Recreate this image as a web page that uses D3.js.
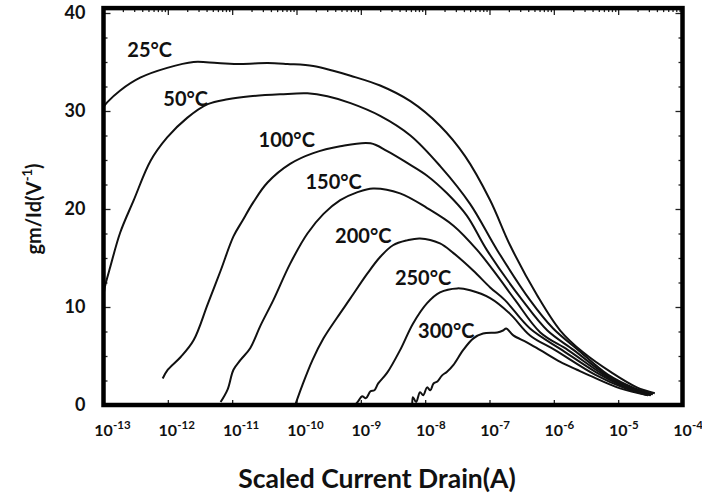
<!DOCTYPE html>
<html>
<head>
<meta charset="utf-8">
<script src="https://cdn.jsdelivr.net/npm/d3@7"></script>
<style>
  body { margin: 0; background: #fff; }
  svg { display: block; }
  text { font-family: Lato, "Open Sans", sans-serif; font-weight: 700; fill: #111; }
</style>
</head>
<body>
<svg id="chart" width="702" height="500"></svg>
<script>
// Each point: [log10 of scaled drain current (A), gm/Id (1/V)]
const t25 = [[-13,30.4],[-12.94,30.9],[-12.74,32.1],[-12.43,33.4],[-12.01,34.4],[-11.6,35.0],[-11.23,34.9],[-10.87,34.8],[-10.45,34.9],[-10.14,34.8],[-9.74,34.6],[-9.43,34.1],[-9.16,33.6],[-8.7,32.6],[-8.23,31.0],[-7.77,28.5],[-7.38,25.4],[-6.99,20.9],[-6.68,16.3],[-6.26,11.2],[-5.9,7.6],[-5.55,5.4],[-5.1,3.3],[-4.71,1.8],[-4.43,1.2]];
const t50 = [[-13,11.0],[-12.98,12.0],[-12.89,14.2],[-12.74,17.6],[-12.53,20.9],[-12.27,24.9],[-12.01,27.3],[-11.7,29.3],[-11.38,30.7],[-11.07,31.2],[-10.72,31.5],[-10.25,31.7],[-9.83,31.8],[-9.52,31.5],[-9.16,30.8],[-8.7,29.5],[-8.23,27.5],[-7.77,24.4],[-7.3,20.5],[-6.88,15.8],[-6.37,10.7],[-6.01,7.8],[-5.62,5.6],[-5.16,3.1],[-4.74,1.7],[-4.46,1.1]];
const t100 = [[-12.08,2.7],[-12.0,3.6],[-11.8,4.9],[-11.6,6.6],[-11.38,10.3],[-11.18,13.7],[-10.98,17.2],[-10.84,18.8],[-10.67,20.7],[-10.45,22.7],[-10.1,24.6],[-9.74,25.7],[-9.32,26.4],[-8.85,26.7],[-8.59,25.9],[-8.28,24.7],[-7.97,23.4],[-7.66,21.6],[-7.35,19.3],[-7.04,15.8],[-6.49,10.7],[-6.1,7.6],[-5.69,5.6],[-5.19,3.1],[-4.78,1.7],[-4.47,1.1]];
const t150 = [[-11.18,0.3],[-11.07,1.6],[-10.98,3.6],[-10.87,4.6],[-10.72,5.8],[-10.56,8.1],[-10.36,10.7],[-10.1,14.4],[-9.83,17.5],[-9.58,19.5],[-9.32,20.9],[-9.06,21.7],[-8.81,22.1],[-8.39,21.6],[-7.97,20.1],[-7.56,18.3],[-7.19,15.8],[-6.88,13.2],[-6.6,10.7],[-6.21,7.4],[-5.78,5.6],[-5.23,3.1],[-4.82,1.7],[-4.49,1.0]];
const t200 = [[-10.02,0],[-9.91,2.0],[-9.75,4.6],[-9.58,6.8],[-9.37,8.9],[-9.16,10.9],[-8.9,13.4],[-8.7,15.1],[-8.5,16.3],[-8.28,16.8],[-8.08,17.0],[-7.77,16.5],[-7.56,15.5],[-7.25,13.7],[-6.99,12.0],[-6.76,10.7],[-6.37,7.8],[-5.87,5.6],[-5.28,3.1],[-4.85,1.7],[-4.5,1.0]];
const t250 = [[-9.09,0],[-9.04,0.4],[-8.98,0.9],[-8.92,0.7],[-8.85,1.4],[-8.79,1.5],[-8.73,2.2],[-8.59,3.3],[-8.39,5.6],[-8.19,8.3],[-7.97,10.4],[-7.77,11.5],[-7.5,11.9],[-7.3,11.7],[-6.99,10.9],[-6.68,9.3],[-6.37,7.1],[-5.98,5.6],[-5.36,3.1],[-4.89,1.7],[-4.54,1.0]];
const t300 = [[-8.2,0],[-8.19,0.8],[-8.14,0.3],[-8.08,1.3],[-8.03,1.0],[-7.97,1.8],[-7.92,1.5],[-7.87,2.2],[-7.81,2.4],[-7.74,3.0],[-7.66,3.4],[-7.56,4.1],[-7.41,5.6],[-7.25,6.8],[-7.1,7.3],[-6.88,7.4],[-6.79,7.6],[-6.74,7.8],[-6.63,7.1],[-6.42,6.4],[-6.21,5.6],[-5.9,4.4],[-5.64,3.6],[-5.44,3.0],[-4.97,1.7],[-4.54,1.0]];

const temperatures = ["25°C", "50°C", "100°C", "150°C", "200°C", "250°C", "300°C"];
const seriesList = [t25, t50, t100, t150, t200, t250, t300];
// lower-left corner of each temperature tag, in [log10 I, gm/Id]
const tagAnchors = [[-12.63,35.5],[-12.07,30.5],[-10.59,26.3],[-9.86,22.0],[-9.4,16.5],[-8.47,12.2],[-8.11,6.8]];

const xExponents = [-13, -12, -11, -10, -9, -8, -7, -6, -5, -4];
const yTickValues = [0, 10, 20, 30, 40];
const xTitle = "Scaled Current Drain(A)";

const svg = d3.select("#chart");
const x = d3.scaleLog().domain([1e-13, 1e-4]).range([103.5, 682.5]);
const y = d3.scaleLinear().domain([0, 40]).range([405, 13]);
const yTop = 40.5;

const plotLeft = x(1e-13), plotRight = x(1e-4), plotBottom = y(0), plotTop = y(yTop);

svg.append("clipPath").attr("id", "plot-clip")
  .append("rect").attr("x", plotLeft).attr("y", plotTop)
  .attr("width", plotRight - plotLeft).attr("height", plotBottom - plotTop);

// tick marks on all four sides, pointing into the plot
const yMinor = d3.range(0, 40.01, 2.5).filter(v => v % 10 !== 0);
const xMinor = [];
xExponents.slice(0, -1).forEach(e => { for (let k = 2; k <= 9; k++) xMinor.push(k * Math.pow(10, e)); });
const xMajor = xExponents.map(e => Math.pow(10, e));

function styleAxis(g) {
  g.select(".domain").remove();
  g.selectAll(".tick line").attr("stroke", "#222").attr("stroke-width", 1.3);
}

svg.append("g").attr("transform", `translate(${plotLeft},0)`)
  .call(d3.axisLeft(y).tickValues(yMinor).tickSize(-4).tickFormat("")).call(styleAxis);
svg.append("g").attr("transform", `translate(${plotRight},0)`)
  .call(d3.axisRight(y).tickValues(yMinor).tickSize(-4).tickFormat("")).call(styleAxis);
svg.append("g").attr("transform", `translate(${plotRight},0)`)
  .call(d3.axisRight(y).tickValues(yTickValues).tickSize(-7).tickFormat("")).call(styleAxis);
svg.append("g").attr("transform", `translate(0,${plotTop})`)
  .call(d3.axisTop(x).tickValues(xMinor).tickSize(-4).tickFormat("")).call(styleAxis);
svg.append("g").attr("transform", `translate(0,${plotTop})`)
  .call(d3.axisTop(x).tickValues(xMajor).tickSize(-7).tickFormat("")).call(styleAxis);
svg.append("g").attr("transform", `translate(0,${plotBottom})`)
  .call(d3.axisBottom(x).tickValues(xMajor).tickSize(-5).tickFormat("")).call(styleAxis);

// y axis with labels
const yAxis = svg.append("g").attr("transform", `translate(${plotLeft},0)`)
  .call(d3.axisLeft(y).tickValues(yTickValues).tickSize(-7).tickPadding(18));
yAxis.call(styleAxis);
yAxis.selectAll(".tick text")
  .attr("font-family", "Lato, 'Open Sans', sans-serif")
  .attr("font-size", 18).attr("font-weight", 700).attr("fill", "#111");

// x tick labels: 10 with a superscript exponent
const xLab = svg.append("g");
xExponents.forEach(e => {
  const px = x(Math.pow(10, e));
  xLab.append("text").attr("x", px).attr("y", plotBottom + 31)
    .attr("text-anchor", "middle").attr("font-size", 16).text("10");
  xLab.append("text").attr("x", px + 9.5).attr("y", plotBottom + 24)
    .attr("font-size", 11.5).text(String(e));
});

// curves
const line = d3.line()
  .x(d => x(Math.pow(10, d[0])))
  .y(d => y(d[1]))
  .curve(d3.curveCatmullRom.alpha(0.5));

svg.append("g").attr("clip-path", "url(#plot-clip)")
  .selectAll("path").data(seriesList).join("path")
  .attr("d", line)
  .attr("fill", "none")
  .attr("stroke", "#111")
  .attr("stroke-width", 2)
  .attr("stroke-linejoin", "round");

// temperature tags
svg.append("g").selectAll("text").data(temperatures).join("text")
  .attr("x", (d, i) => x(Math.pow(10, tagAnchors[i][0])))
  .attr("y", (d, i) => y(tagAnchors[i][1]))
  .attr("font-size", 20)
  .text(d => d);

// frame
svg.append("rect")
  .attr("x", plotLeft).attr("y", plotTop)
  .attr("width", plotRight - plotLeft).attr("height", plotBottom - plotTop)
  .attr("fill", "none").attr("stroke", "#000").attr("stroke-width", 4.5);

// axis titles
const yt = svg.append("text")
  .attr("transform", `translate(41,209) rotate(-90)`)
  .attr("text-anchor", "middle").attr("font-size", 20);
yt.append("tspan").text("gm/Id(V");
yt.append("tspan").attr("font-size", 13).attr("dy", -9).text("-1");
yt.append("tspan").attr("dy", 9).text(")");

svg.append("text")
  .attr("x", 377).attr("y", 488)
  .attr("text-anchor", "middle").attr("font-size", 26.5)
  .text(xTitle);
</script>
</body>
</html>
